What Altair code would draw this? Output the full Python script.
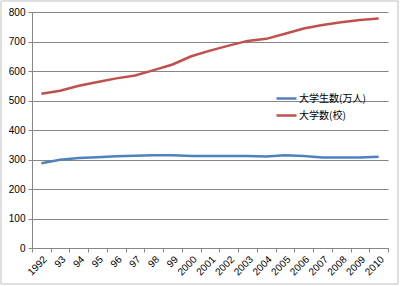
import altair as alt
import pandas as pd

years = ["1992", "93", "94", "95", "96", "97", "98", "99", "2000", "2001",
         "2002", "2003", "2004", "2005", "2006", "2007", "2008", "2009", "2010"]
students = [287, 299, 305, 308, 311, 313, 314, 314, 312, 312,
            312, 312, 310, 314, 312, 307, 307, 307, 309]
universities = [523, 533, 550, 563, 575, 585, 603, 622, 650, 669,
                686, 702, 709, 726, 744, 756, 765, 773, 778]
series_names = ["大学生数(万人)", "大学数(校)"]
colors = ["#4F81BD", "#C0504D"]

rows = []
for i, y in enumerate(years):
    rows.append({"year": y, "series": series_names[0], "value": students[i], "ord": i})
    rows.append({"year": y, "series": series_names[1], "value": universities[i], "ord": i})
df = pd.DataFrame(rows)

FONT = "Liberation Sans"
CJK = "Noto Sans CJK JP"

lines = alt.Chart(df).mark_line(strokeWidth=2.5).encode(
    x=alt.X("year:N", sort=years, bandPosition=0.5,
            scale=alt.Scale(type="band", paddingInner=0, paddingOuter=0),
            axis=alt.Axis(title=None, labelAngle=-45, labelAlign="right",
                          labelBaseline="top", tickBand="extent",
                          grid=False, domainColor="#868686", tickColor="#868686",
                          tickSize=4, labelFont=FONT, labelFontSize=10,
                          labelColor="#000000", labelPadding=2)),
    y=alt.Y("value:Q", scale=alt.Scale(domain=[0, 800], nice=False),
            axis=alt.Axis(title=None, values=[0, 100, 200, 300, 400, 500, 600, 700, 800],
                          grid=True, gridColor="#868686", gridWidth=1,
                          domainColor="#868686", tickColor="#868686", tickSize=4,
                          labelFont=FONT, labelFontSize=10, labelColor="#000000",
                          labelPadding=3)),
    color=alt.Color("series:N", sort=series_names,
                    scale=alt.Scale(domain=series_names, range=colors),
                    legend=alt.Legend(title=None, orient="none", legendX=243, legendY=75,
                                      symbolType="stroke", symbolSize=400,
                                      symbolStrokeWidth=2.5, labelFont=CJK,
                                      labelFontSize=10, labelColor="#000000",
                                      labelOffset=1, rowPadding=0)),
    order="ord:Q",
)

frame = alt.Chart(pd.DataFrame({"a": [0]})).mark_rect(
    fill=None, stroke="#BFBFBF", strokeWidth=1
).encode(
    x=alt.value(-31), x2=alt.value(366), y=alt.value(-11), y2=alt.value(272)
)

chart = alt.layer(lines, frame).properties(
    width=356, height=236,
    padding={"left": 32, "top": 12, "right": 12, "bottom": 38},
    autosize=alt.AutoSizeParams(type="none"),
    background="white",
).configure_view(stroke=None)

chart.save("out.html", embed_options={"renderer": "svg", "actions": False})
